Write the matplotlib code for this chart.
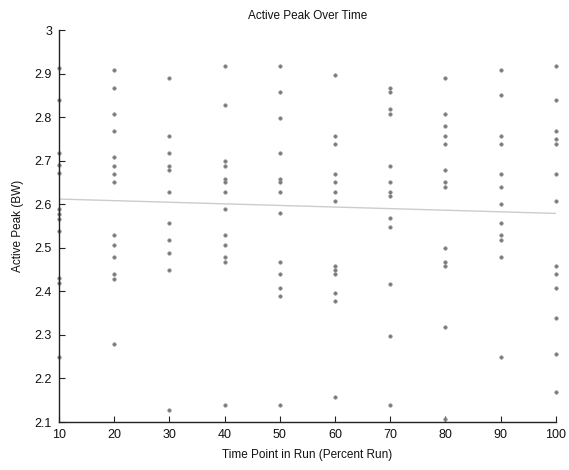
import matplotlib
matplotlib.use("Agg")
import matplotlib.pyplot as plt

plt.rcParams['font.family'] = ['Liberation Sans', 'DejaVu Sans']

# Data: time point (percent run) -> active peak values (BW)
time_points = [10, 20, 30, 40, 50, 60, 70, 80, 90, 100]
peak_10 = [2.912, 2.839, 2.718, 2.690, 2.671, 2.589, 2.578, 2.567, 2.539, 2.430, 2.419, 2.250]
peak_20 = [2.908, 2.868, 2.808, 2.769, 2.708, 2.689, 2.669, 2.650, 2.529, 2.507, 2.478, 2.440, 2.428, 2.278]
peak_30 = [2.889, 2.757, 2.718, 2.689, 2.679, 2.628, 2.558, 2.518, 2.489, 2.449, 2.128]
peak_40 = [2.918, 2.829, 2.700, 2.689, 2.659, 2.650, 2.628, 2.589, 2.529, 2.507, 2.478, 2.468, 2.139]
peak_50 = [2.918, 2.858, 2.797, 2.718, 2.659, 2.650, 2.628, 2.579, 2.468, 2.439, 2.408, 2.390, 2.139]
peak_60 = [2.897, 2.757, 2.739, 2.669, 2.650, 2.628, 2.608, 2.458, 2.449, 2.439, 2.397, 2.379, 2.158]
peak_70 = [2.868, 2.858, 2.819, 2.808, 2.689, 2.650, 2.628, 2.618, 2.568, 2.547, 2.418, 2.297, 2.140]
peak_80 = [2.889, 2.808, 2.779, 2.757, 2.739, 2.679, 2.650, 2.640, 2.500, 2.468, 2.458, 2.319, 2.108]
peak_90 = [2.908, 2.850, 2.757, 2.739, 2.669, 2.640, 2.600, 2.558, 2.529, 2.518, 2.479, 2.250]
peak_100 = [2.918, 2.839, 2.768, 2.750, 2.739, 2.669, 2.608, 2.458, 2.439, 2.408, 2.339, 2.257, 2.168]
peaks = [peak_10, peak_20, peak_30, peak_40, peak_50, peak_60, peak_70, peak_80, peak_90, peak_100]

# Linear trend line endpoints
trend_x = [10, 100]
trend_y = [2.612, 2.579]

x_ticks = [10, 20, 30, 40, 50, 60, 70, 80, 90, 100]
y_ticks = [2.1, 2.2, 2.3, 2.4, 2.5, 2.6, 2.7, 2.8, 2.9, 3.0]
y_ticklabels = ['2.1', '2.2', '2.3', '2.4', '2.5', '2.6', '2.7', '2.8', '2.9', '3']

fig = plt.figure(figsize=(5.69, 4.70), dpi=100)
ax = fig.add_axes([0.1037, 0.1021, 0.8733, 0.8339])

ax.plot(trend_x, trend_y, color='#cccccc', lw=1.0, zorder=1)
for t, vals in zip(time_points, peaks):
    ax.plot([t] * len(vals), vals, linestyle='none', marker='o', markersize=2.6,
            markerfacecolor='#7a7a7a', markeredgecolor='#9a9a9a', markeredgewidth=0.4,
            zorder=2, clip_on=False)

ax.set_xlim(10, 100)
ax.set_ylim(2.1, 3.0)
ax.set_xticks(x_ticks)
ax.set_yticks(y_ticks)
ax.set_yticklabels(y_ticklabels)

for s in ['top', 'right']:
    ax.spines[s].set_visible(False)
for s in ['left', 'bottom']:
    ax.spines[s].set_color('#222222')
    ax.spines[s].set_linewidth(1.0)
    ax.spines[s].set_zorder(3)

ax.tick_params(direction='in', length=4, width=0.8, colors='#222222',
               labelsize=9, labelcolor='#111111', pad=5)

ax.set_title('Active Peak Over Time', fontsize=8.5, color='#111111', pad=8)
ax.set_xlabel('Time Point in Run (Percent Run)', fontsize=8.5, color='#111111', labelpad=6)
ax.set_ylabel('Active Peak (BW)', fontsize=8.5, color='#111111', labelpad=8)

fig.savefig('out.png', dpi=100)
